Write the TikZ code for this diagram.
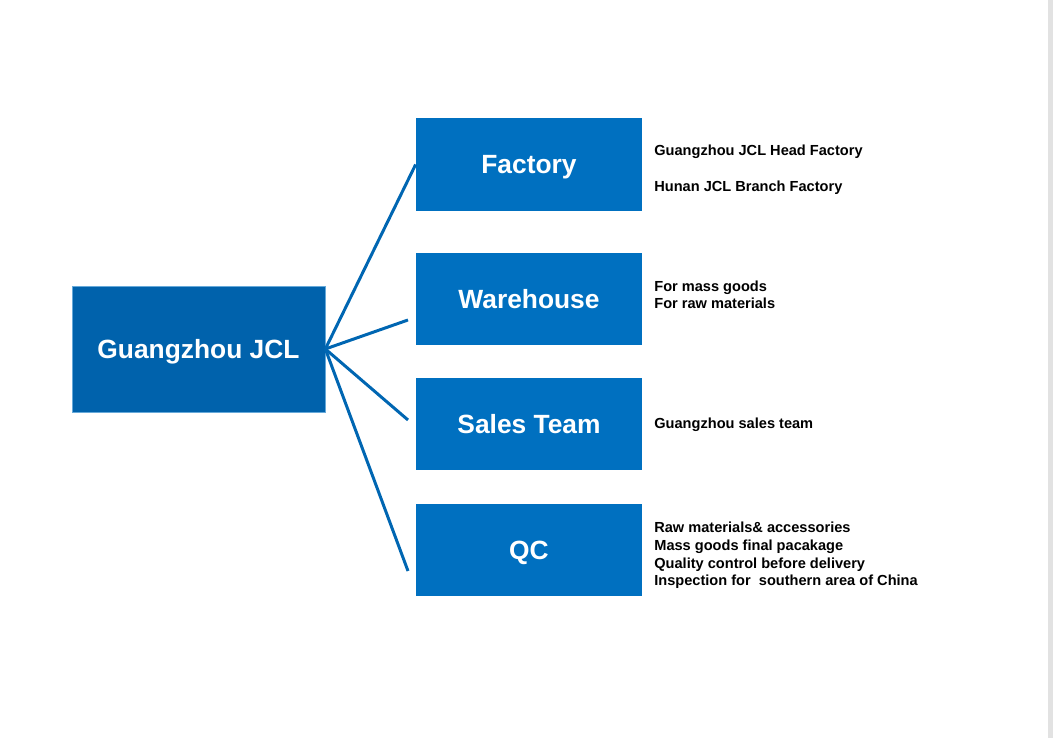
\documentclass[tikz,border=0pt]{standalone}
\usepackage{fontspec}
\setmainfont{Liberation Sans}
\usetikzlibrary{positioning}
\definecolor{jclmain}{RGB}{0,98,172}
\definecolor{jclbox}{RGB}{0,112,192}
\definecolor{jclline}{RGB}{0,102,178}
\definecolor{edgegray}{RGB}{226,226,226}

\begin{document}
\begin{tikzpicture}[
  branch/.style={fill=jclbox, text=white, font=\fontsize{15}{18}\selectfont\bfseries,
    text height=10.8pt, text depth=0pt,
    minimum width=4.52cm, minimum height=1.85cm, inner sep=0pt},
  note/.style={anchor=west, align=left, inner sep=0pt, font=\fontsize{8.3}{10}\selectfont\bfseries},
  link/.style={jclline, line width=1.7pt}
]
  % Page frame
  \useasboundingbox (0,0) rectangle (21.06,14.76);
  \fill[edgegray] (20.96,0) rectangle (21.06,14.76);
  % Root
  \node[branch, fill=jclmain, draw=jclbox!60, minimum width=5.06cm, minimum height=2.52cm] (root) at (3.97,7.78) {Guangzhou JCL};
  % Branches
  \node[branch] (factory) at (10.58,11.47) {Factory};
  \node[branch] (warehouse) at (10.58,8.78) {Warehouse};
  \node[branch] (sales) at (10.58,6.28) {Sales Team};
  \node[branch] (qc) at (10.58,3.76) {QC};
  % Loose line ends
  \coordinate (warehouseEnd) at (8.16,8.36);
  \coordinate (salesEnd) at (8.16,6.36);
  \coordinate (qcEnd) at (8.16,3.34);
  % Links
  \draw[link] (root.east) -- (factory.west);
  \foreach \e in {warehouseEnd, salesEnd, qcEnd}
    \draw[link] (root.east) -- (\e);
  % Notes
  \node[note] (factoryNote) at (13.08,11.36) {Guangzhou JCL Head Factory\\[10.4pt]Hunan JCL Branch Factory};
  \node[note] (warehouseNote) at (13.08,8.86) {For mass goods\\For raw materials};
  \node[note] (salesNote) at (13.08,6.27) {Guangzhou sales team};
  \node[note] (qcNote) at (13.08,3.65) {Raw materials\& accessories\\Mass goods final pacakage\\Quality control before delivery\\Inspection for\ \ southern area of China};
\end{tikzpicture}
\end{document}
